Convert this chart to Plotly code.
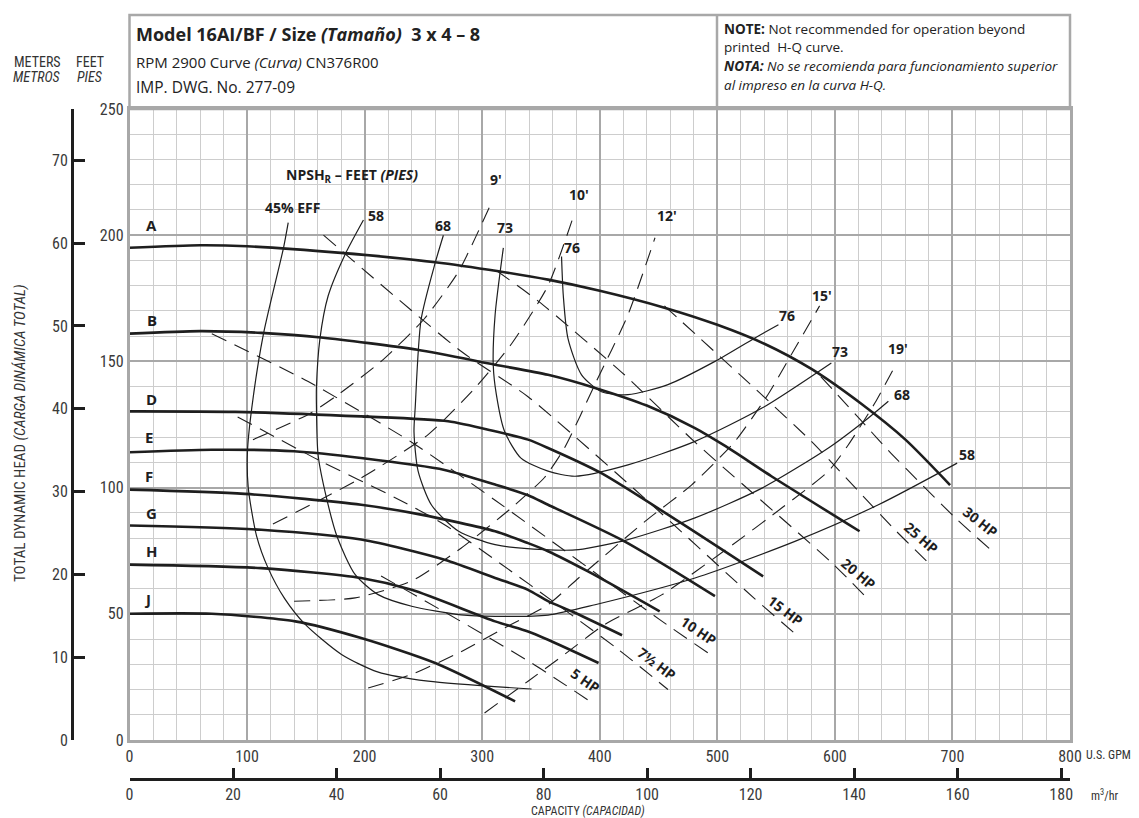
import plotly.graph_objects as go

W, H = 1139, 818
INK = "#1e1e1e"
GRID_MINOR = "#cdcdcd"
GRID_MAJOR = "#a8a8a8"
NARROW = "Roboto Condensed, DejaVu Sans Condensed, sans-serif"
SANS = "Open Sans, Noto Sans, sans-serif"

# head-capacity curves by impeller: capacity (U.S. GPM) / head (feet)
a_gpm = [0, 60, 100, 180, 260, 314, 356, 400, 455, 500, 540, 580, 623, 660, 698]
a_ft = [195, 196, 195.6, 193, 189.3, 185.7, 182.4, 178, 171.3, 164.5, 157, 147, 133, 119, 101]
b_gpm = [0, 60, 112, 163, 245, 311, 356, 396, 440, 481, 507, 546, 621]
b_ft = [161, 162, 161.3, 159.5, 154.6, 148.7, 144.7, 139.5, 132.5, 123.6, 116.4, 104.5, 82.7]
d_gpm = [0, 90, 197, 271, 311, 339, 356, 401, 467, 539]
d_ft = [130.2, 130, 128.2, 126.3, 122.3, 119, 115.7, 105.8, 86.6, 64.8]
e_gpm = [0, 70, 140, 197, 268, 311, 339, 356, 421, 498]
e_ft = [114, 115, 114.4, 111.7, 107, 101.2, 97, 93.2, 78.7, 57]
f_gpm = [0, 98, 197, 248, 311, 339, 356, 390, 451]
f_ft = [99.2, 97.5, 93.2, 89.3, 82.7, 78, 74.8, 66.8, 51]
g_gpm = [0, 112, 197, 268, 311, 339, 356, 376, 419]
g_ft = [85, 83.3, 79.4, 71.4, 64.2, 59.5, 55, 51, 41.5]
h_gpm = [0, 112, 197, 240, 311, 339, 356, 399]
h_ft = [69.5, 68.1, 64.2, 59.5, 47, 43, 39.7, 30.5]
j_gpm = [0, 70, 141, 197, 260, 328]
j_ft = [50, 50, 47, 40.4, 30.5, 15.3]
impellers = ["A", "B", "D", "E", "F", "G", "H", "J"]

# iso-efficiency curves
eff45_gpm = [135, 131, 114, 104, 100.3, 101, 108, 118, 132, 149, 180, 211, 254, 342]
eff45_ft = [205, 195, 161, 131.5, 114, 100, 81, 68, 56, 46, 34, 27, 23.3, 20.2]
eff58_gpm = [199, 183, 169, 162, 159, 159, 160.4, 167.5, 177, 192, 211.5, 240, 282, 311, 356, 396, 481, 566, 637, 704]
eff58_ft = [206, 192, 176, 159, 139.5, 133, 113, 96, 80, 65.5, 57.6, 53, 49.6, 49, 49.5, 53.6, 64.2, 78.7, 93.2, 109.7]
eff68_gpm = [267, 260, 248, 243, 242, 245.5, 257, 280, 311, 353, 382, 424, 481, 538, 594.5, 628.5, 645.5]
eff68_ft = [200, 189, 166.5, 131.5, 122, 106.5, 93, 82.7, 77.4, 75.4, 75.4, 79.4, 88, 99.8, 115.7, 127.6, 134.2]
eff73_gpm = [318, 311, 309.4, 312, 319, 333, 356, 379, 424, 481, 538, 597]
eff73_ft = [195, 168.5, 148.7, 137, 122.3, 111.7, 106.5, 104.5, 109, 118.3, 131.5, 149.4]
eff76_gpm = [367.5, 369, 373, 384.5, 401.5, 424, 458, 498, 532, 552]
eff76_ft = [191.6, 176, 159, 144.7, 138, 136.8, 140.8, 150, 159.3, 164.5]

# NPSH required lines (feet)
npsh9_gpm = [105, 152, 175, 214, 251, 280, 307]
npsh9_ft = [119, 129, 136, 150, 167, 185.7, 212]
npsh10_gpm = [122, 197, 254, 294, 325, 356, 378]
npsh10_ft = [85.6, 103.8, 121, 139.5, 157, 180, 208]
npsh12_gpm = [140, 192, 240, 282, 325, 353, 370, 396, 424, 447]
npsh12_ft = [55, 56.3, 63, 76, 92, 104, 115.7, 141, 168.5, 199]
npsh15_gpm = [203, 240, 282, 319, 356, 382, 438.5, 478, 515, 543, 563, 587]
npsh15_ft = [20.6, 26, 35, 44.4, 53.6, 64.2, 86.6, 101, 118.3, 136.8, 152.7, 172]
npsh19_gpm = [302, 339, 367.5, 404, 453, 509, 555, 594.5, 611.5, 634, 652.6]
npsh19_ft = [10.7, 23.3, 33, 45.7, 57.6, 76, 92, 106.5, 117, 133.5, 149.4]

# horsepower lines
hp30_gpm = [588, 622.8, 648, 704, 734]
hp30_ft = [144, 126.3, 113.5, 87.3, 74.8]
hp25_gpm = [455, 537.7, 580, 651, 680]
hp25_ft = [172, 136.8, 118.3, 83.3, 70]
hp20_gpm = [312, 348, 421, 481, 596, 630]
hp20_ft = [186, 173.8, 144.7, 118, 70.8, 55]
hp15_gpm = [165, 282, 339, 440, 531, 569]
hp15_ft = [200, 154, 136, 95, 56.3, 41]
hp10_gpm = [70, 152, 240, 311, 451, 492]
hp10_ft = [161, 142, 118, 95, 47.7, 34.5]
hp7_gpm = [92, 163, 226, 268, 414, 458]
hp7_ft = [128, 110.4, 96, 85.3, 36.5, 20]
hp5_gpm = [214, 280, 342, 396]
hp5_ft = [65, 47.5, 30.5, 14]

gpm_ticks = [0, 100, 200, 300, 400, 500, 600, 700, 800]
m3h_ticks = [0, 20, 40, 60, 80, 100, 120, 140, 160, 180]
ft_ticks = [0, 50, 100, 150, 200, 250]
m_ticks = [0, 10, 20, 30, 40, 50, 60, 70]

qh_curves = [(a_gpm, a_ft), (b_gpm, b_ft), (d_gpm, d_ft), (e_gpm, e_ft),
             (f_gpm, f_ft), (g_gpm, g_ft), (h_gpm, h_ft), (j_gpm, j_ft)]
eff_curves = [(eff45_gpm, eff45_ft), (eff58_gpm, eff58_ft), (eff68_gpm, eff68_ft),
              (eff73_gpm, eff73_ft), (eff76_gpm, eff76_ft)]
npsh_curves = [(npsh9_gpm, npsh9_ft), (npsh10_gpm, npsh10_ft), (npsh12_gpm, npsh12_ft),
               (npsh15_gpm, npsh15_ft), (npsh19_gpm, npsh19_ft)]
hp_curves = [(hp30_gpm, hp30_ft), (hp25_gpm, hp25_ft), (hp20_gpm, hp20_ft), (hp15_gpm, hp15_ft),
             (hp10_gpm, hp10_ft), (hp7_gpm, hp7_ft), (hp5_gpm, hp5_ft)]


def px(x):
    return x / W


def py(y):
    return 1 - y / H


fig = go.Figure()

for gx, gy in npsh_curves + hp_curves:
    fig.add_trace(go.Scatter(x=gx, y=gy, mode="lines", hoverinfo="skip", showlegend=False,
                             line=dict(color=INK, width=1.1, dash="16px,9px", shape="spline", smoothing=0.6)))
for gx, gy in eff_curves:
    fig.add_trace(go.Scatter(x=gx, y=gy, mode="lines", hoverinfo="skip", showlegend=False,
                             line=dict(color=INK, width=1.2, shape="spline", smoothing=0.7)))
for gx, gy in qh_curves:
    fig.add_trace(go.Scatter(x=gx, y=gy, mode="lines", hoverinfo="skip", showlegend=False,
                             line=dict(color=INK, width=2.6, shape="spline", smoothing=0.7)))

# invisible traces so the metric axes get drawn
fig.add_trace(go.Scatter(x=[0], y=[0], xaxis="x2", yaxis="y", mode="markers",
                         marker=dict(opacity=0), hoverinfo="skip", showlegend=False))
fig.add_trace(go.Scatter(x=[0], y=[0], xaxis="x", yaxis="y2", mode="markers",
                         marker=dict(opacity=0), hoverinfo="skip", showlegend=False))

x_dom = [px(121.5), px(1062)]
y_dom = [py(732), py(101)]
tick_font = dict(family=NARROW, size=16, color="#3a3a3a")

fig.update_layout(
    width=W, height=H, margin=dict(l=0, r=0, t=0, b=0),
    paper_bgcolor="white", plot_bgcolor="white",
    xaxis=dict(domain=x_dom, range=[0, 800], tickvals=gpm_ticks, showgrid=True,
               gridcolor=GRID_MAJOR, gridwidth=2, zeroline=False,
               minor=dict(dtick=20, showgrid=True, gridcolor=GRID_MINOR, gridwidth=1),
               showline=True, mirror=True, linecolor=GRID_MAJOR, linewidth=2.5,
               ticks="", tickfont=tick_font, automargin=False),
    yaxis=dict(domain=y_dom, range=[0, 250], tickvals=ft_ticks, showgrid=True,
               gridcolor=GRID_MAJOR, gridwidth=2, zeroline=False,
               minor=dict(dtick=10, showgrid=True, gridcolor=GRID_MINOR, gridwidth=1),
               showline=True, mirror=True, linecolor=GRID_MAJOR, linewidth=2.5,
               ticks="", tickfont=tick_font, automargin=False),
    xaxis2=dict(domain=x_dom, overlaying="x", anchor="free", position=py(771), side="bottom",
                range=[0, 800 * 0.2271247], tickvals=m3h_ticks, showgrid=False, zeroline=False,
                showline=True, linecolor=INK, linewidth=2.5, ticks="inside", ticklen=10,
                tickwidth=2.5, tickcolor=INK, tickfont=tick_font, automargin=False),
    yaxis2=dict(domain=y_dom, overlaying="y", anchor="free", position=px(64), side="left",
                range=[0, 250 * 0.3048], tickvals=m_ticks, showgrid=False, zeroline=False,
                showline=True, linecolor=INK, linewidth=3, ticks="inside", ticklen=11,
                tickwidth=3, tickcolor=INK, tickfont=tick_font, automargin=False),
)

# header box
fig.add_shape(type="rect", xref="paper", yref="paper", x0=px(121.5), x1=px(1062),
              y0=py(101), y1=py(7), line=dict(color=GRID_MAJOR, width=2.5))
fig.add_shape(type="line", xref="paper", yref="paper", x0=px(709), x1=px(709),
              y0=py(101), y1=py(7), line=dict(color=GRID_MAJOR, width=2.5))


def note(text, x, y, size=13, family=SANS, anchor="left", color="#222", angle=0):
    fig.add_annotation(text=text, xref="paper", yref="paper", x=px(x), y=py(y), showarrow=False,
                       xanchor=anchor, yanchor="middle", textangle=angle, borderpad=0,
                       font=dict(family=family, size=size, color=color))


note("<b>Model 16AI/BF / Size <i>(Tamaño)</i>  3 x 4 – 8</b>", 127, 26, size=18)
note("RPM 2900 Curve <i>(Curva)</i> CN376R00", 127, 54, size=15)
note("IMP. DWG. No. 277-09", 127, 79, size=15.5)
note("<b>NOTE:</b> Not recommended for operation beyond", 715, 21, size=13.5)
note("printed  H-Q curve.", 715, 39, size=13.5)
note("<b><i>NOTA:</i></b> <i>No se recomienda para funcionamiento superior</i>", 715, 58, size=13.5)
note("<i>al impreso en la curva H-Q.</i>", 715, 77, size=13.5)

note("METERS", 29, 54, size=14, family=NARROW, anchor="center", color="#333")
note("<i>METROS</i>", 29, 69, size=14, family=NARROW, anchor="center", color="#333")
note("FEET", 82, 54, size=14, family=NARROW, anchor="center", color="#333")
note("<i>PIES</i>", 82, 69, size=14, family=NARROW, anchor="center", color="#333")
note("TOTAL DYNAMIC HEAD <i>(CARGA DINÁMICA TOTAL)</i>", 12, 425, size=15, family=NARROW,
     anchor="center", color="#333", angle=-90)
note("U.S. GPM", 1077, 747, size=12, family=NARROW, color="#333")
note("m<sup>3</sup>/hr", 1082, 787, size=12, family=NARROW, color="#333")
note("CAPACITY <i>(CAPACIDAD)</i>", 580, 803, size=12, family=NARROW, anchor="center", color="#333")

# labels inside the chart (data coordinates)
qh_labels = [(19, 204), (19, 166.5), (18.6, 135.2), (17, 120), (17, 104.5), (18.6, 90), (18.6, 74.8), (15.7, 56)]
for name, (lx, ly) in zip(impellers, qh_labels):
    fig.add_annotation(text=f"<b>{name}</b>", x=lx, y=ly, showarrow=False,
                       font=dict(family=SANS, size=15, color=INK))

eff_labels = [("45% EFF", 139, 210.8), ("58", 210, 207.7), ("68", 266.8, 204), ("73", 319.3, 203),
              ("76", 376, 195), ("76", 559, 168.3), ("73", 604.4, 154), ("68", 657, 136.8), ("58", 712, 113.3)]
npsh_labels = [("9'", 312, 222), ("10'", 382, 216), ("12'", 457, 208), ("15'", 589, 176), ("19'", 654, 155.3)]
for text, lx, ly in eff_labels + npsh_labels:
    fig.add_annotation(text=f"<b>{text}</b>", x=lx, y=ly, showarrow=False,
                       font=dict(family=SANS, size=14, color=INK))

fig.add_annotation(text="<b>NPSH<sub>R</sub> – FEET <i>(PIES)</i></b>", x=189, y=223.6, showarrow=False,
                   font=dict(family=SANS, size=14, color=INK))

hp_labels = [("30 HP", 723.6, 86.6, 38), ("25 HP", 673.3, 80.3, 41), ("20 HP", 620, 65.9, 40),
             ("15 HP", 558, 51.4, 37), ("10 HP", 483.8, 43.3, 34), ("7½ HP", 448.3, 30.2, 37),
             ("5 HP", 388, 23.7, 35)]
for text, lx, ly, ang in hp_labels:
    fig.add_annotation(text=f"<b>{text}</b>", x=lx, y=ly, showarrow=False, textangle=ang,
                       font=dict(family=SANS, size=14, color=INK))

fig.write_html("out.html")
